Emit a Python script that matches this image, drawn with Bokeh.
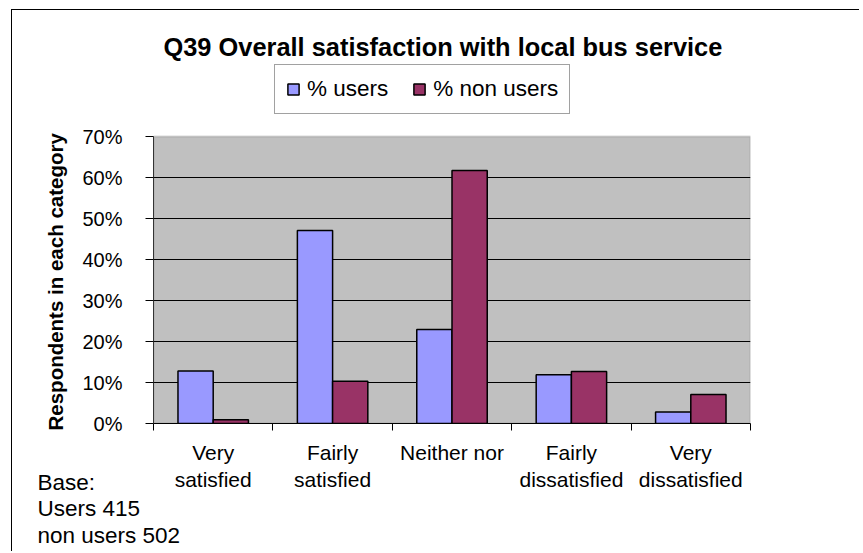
from bokeh.plotting import figure
from bokeh.models import (ColumnDataSource, Range1d, FixedTicker, NumeralTickFormatter,
                          Legend, LegendItem, Title, Label, BoxAnnotation)
from bokeh.embed import file_html
from bokeh.resources import INLINE

# ---- data ----
categories = ["Very\nsatisfied", "Fairly\nsatisfied", "Neither nor",
              "Fairly\ndissatisfied", "Very\ndissatisfied"]
users = [0.128, 0.471, 0.229, 0.119, 0.028]
non_users = [0.009, 0.103, 0.617, 0.127, 0.071]
series_names = ["% users", "% non users"]
y_ticks = [0.0, 0.1, 0.2, 0.3, 0.4, 0.5, 0.6, 0.7]
title_text = "Q39 Overall satisfaction with local bus service"
y_label = "Respondents in each category"
base_lines = ["Base:", "Users 415", "non users 502"]

FONT = "Liberation Sans"
BAR_W = 0.295
OFF = 0.1475

# layout geometry (pixels)
W, H = 848, 542
B_LEFT, B_TOP, B_BOTTOM, B_RIGHT = 141, 10, 129, 110
FRAME_H = H - B_TOP - B_BOTTOM          # whole frame height
PLOT_H = 287                            # height of the grey plotting area
Y_MAX = y_ticks[-1]
y_end = Y_MAX * FRAME_H / PLOT_H        # frame extends above the plot area for title/legend
n = len(categories)

idx = list(range(n))
src = ColumnDataSource(dict(
    xu=[i + 0.5 - OFF for i in idx],
    xn=[i + 0.5 + OFF for i in idx],
    users=users, non_users=non_users))

p = figure(width=W, height=H, output_backend="svg", toolbar_location=None,
           x_range=Range1d(0, n), y_range=Range1d(0, y_end),
           min_border_left=B_LEFT, min_border_top=B_TOP, min_border_bottom=B_BOTTOM,
           min_border_right=B_RIGHT)
p.margin = (9, 0, 0, 11)
p.styles = {"border-top": "1px solid black", "border-left": "1px solid black"}

p.background_fill_color = "white"
p.border_fill_color = "white"
p.outline_line_color = None

# grey plotting area (drawn before the grid lines)
plot_area = BoxAnnotation(bottom=0, top=Y_MAX, fill_color="#C0C0C0", fill_alpha=1,
                          line_color="#808080", line_width=2, level="underlay")
p.center = [plot_area] + list(p.center)

r1 = p.vbar(x="xu", top="users", width=BAR_W, source=src,
            fill_color="#9999FF", line_color="black", line_width=1.5)
r2 = p.vbar(x="xn", top="non_users", width=BAR_W, source=src,
            fill_color="#993366", line_color="black", line_width=1.5)

# grid
p.xgrid.visible = False
p.ygrid.grid_line_color = "black"
p.ygrid.grid_line_width = 1
p.ygrid.ticker = FixedTicker(ticks=y_ticks[:-1])

# y axis
ya = p.yaxis[0]
ya.bounds = (0, Y_MAX)
ya.ticker = FixedTicker(ticks=y_ticks)
ya.formatter = NumeralTickFormatter(format="0%")
ya.axis_line_color = "#333333"
ya.major_tick_out = 8
ya.major_tick_in = 0
ya.minor_tick_out = 0
ya.minor_tick_in = 0
ya.major_label_standoff = 23
ya.major_label_text_font = FONT
ya.major_label_text_font_size = "20px"
ya.major_label_text_color = "black"

# y axis title (left panel, outside the tick labels), centred on the grey area
p.add_layout(Title(text=y_label, align="left", offset=-7, vertical_align="bottom",
                   standoff=25, text_font=FONT, text_font_style="bold",
                   text_font_size="20.5px", text_color="black"), "left")

# x axis
xa = p.xaxis[0]
xa.ticker = FixedTicker(ticks=[i + 0.5 for i in idx],
                        minor_ticks=list(range(n + 1)))
xa.major_label_overrides = {i + 0.5: c for i, c in zip(idx, categories)}
xa.axis_line_color = "black"
xa.major_tick_out = 0
xa.major_tick_in = 0
xa.minor_tick_out = 7
xa.minor_tick_in = 0
xa.minor_tick_line_color = "black"
xa.major_label_standoff = 10
xa.major_label_text_font = FONT
xa.major_label_text_font_size = "21px"
xa.major_label_text_color = "black"
xa.major_label_text_line_height = 1.2

# title inside the (extended) frame
p.add_layout(Label(x=10, y=377, x_units="screen", y_units="screen", text=title_text,
                   text_align="left", text_baseline="middle", text_font=FONT,
                   text_font_style="bold", text_font_size="25.4px", text_color="black"))

# legend inside the (extended) frame
legend = Legend(items=[LegendItem(label=series_names[0], renderers=[r1]),
                       LegendItem(label=series_names[1], renderers=[r2])],
                orientation="horizontal", location=(121, 309))
legend.label_text_font = FONT
legend.label_text_font_size = "22.5px"
legend.label_text_color = "black"
legend.glyph_width = 14
legend.glyph_height = 14
legend.label_standoff = 7
legend.spacing = 24
legend.padding = 11
legend.margin = 0
legend.border_line_color = "#444444"
legend.border_line_width = 1
legend.background_fill_color = "white"
legend.background_fill_alpha = 1
p.add_layout(legend, "center")

# base note (below panel, after the axis)
p.add_layout(Title(text="\n".join(base_lines), align="left", offset=-116,
                   vertical_align="top", standoff=-50, text_font=FONT,
                   text_font_style="normal", text_font_size="22.5px",
                   text_line_height=1.074, text_color="black"), "below")

open("out.html", "w").write(file_html(p, INLINE))
